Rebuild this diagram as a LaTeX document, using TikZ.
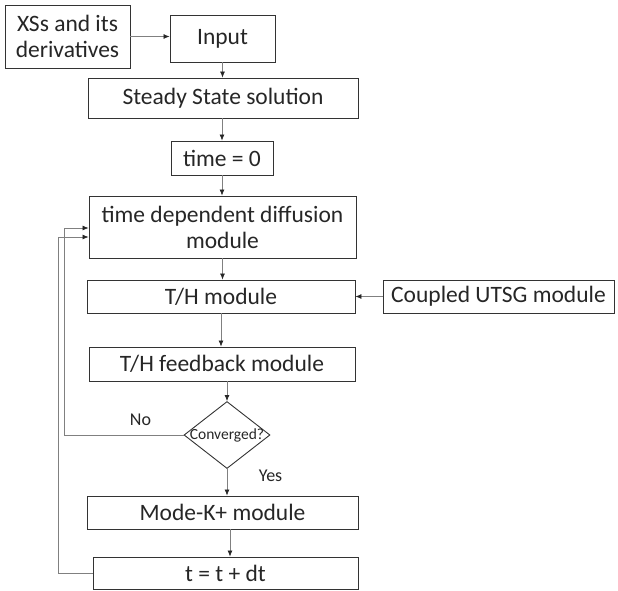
\documentclass[tikz,border=0pt]{standalone}
\usepackage{fontspec}
\setmainfont{Carlito}
\usetikzlibrary{shapes.geometric,arrows.meta,positioning}

\begin{document}
\begin{tikzpicture}[x=1pt,y=-1pt,
      box/.style={
            rectangle, draw=black!80, line width=0.9pt,
            text=black!85, align=center, inner sep=0pt,
            font=\fontsize{23.5}{26}\selectfont
        },
      decision/.style={
            diamond, draw=black!80, line width=0.9pt,
            text=black!85, inner sep=0pt,
            font=\fontsize{15.5}{17}\selectfont
        },
      tag/.style={text=black!85, font=\fontsize{18}{20}\selectfont},
      link/.style={draw=black!50, line width=0.7pt, -{Latex[length=6pt,width=5pt,color=black!85]}}
      ]
    \useasboundingbox (0,0) rectangle (618,590);

    \node[box, minimum width=125pt, minimum height=63pt] (xss) at (67.5,36.5) {XSs and its\\derivatives};
    \node[box, minimum width=105pt, minimum height=47pt] (input) at (222.5,38.5) {Input};
    \node[box, minimum width=270pt, minimum height=40pt] (steady) at (223,98) {Steady State solution};
    \node[box, minimum width=102pt, minimum height=34pt] (tzero) at (222,158) {time = 0};
    \node[box, minimum width=267pt, minimum height=62pt] (diff) at (222.5,227) {time dependent diffusion\\module};
    \node[box, minimum width=268pt, minimum height=33pt] (th) at (221,296.5) {T/H module};
    \node[box, minimum width=231pt, minimum height=33pt] (utsg) at (498.5,296.5) {Coupled UTSG module};
    \node[box, minimum width=266pt, minimum height=34pt] (thfb) at (222,364) {T/H feedback module};
    \node[decision, minimum width=86pt, minimum height=67pt] (conv) at (227,435) {\makebox[0pt]{Converged?}};
    \node[box, minimum width=271pt, minimum height=33pt] (modek) at (222.5,512.5) {Mode-K+ module};
    \node[box, minimum width=265pt, minimum height=32pt] (tstep) at (225.5,573) {t = t + dt};

    \node[tag] (lblno) at (140.5,420) {No};
    \node[tag] (lblyes) at (270.5,476) {Yes};

    % main flow
    \draw[link] (xss.east) -- (xss.east -| input.west);
    \draw[link] (input.south) -- (input.south |- steady.north);
    \draw[link] (steady.south -| tzero) -- (tzero.north);
    \draw[link] (tzero.south) -- (tzero.south |- diff.north);
    \draw[link] (diff.south) -- (diff.south |- th.north);
    \draw[link] (utsg.west) -- (th.east);
    \draw[link] (th.south) -- (th.south |- thfb.north);
    \draw[link] (conv.north |- thfb.south) -- (conv.north);
    \draw[link] (conv.south) -- (conv.south |- modek.north);
    \draw[link] ([xshift=7.5pt]modek.south) -- ([xshift=7.5pt]modek.south |- tstep.north);

    % loops back
    \draw[link] (conv.west) -| ([xshift=-24pt,yshift=-1pt]diff.west) -- ([yshift=-1pt]diff.west);
    \draw[link] (tstep.west) -| ([xshift=-30pt,yshift=-10pt]diff.west) -- ([yshift=-10pt]diff.west);
\end{tikzpicture}
\end{document}
